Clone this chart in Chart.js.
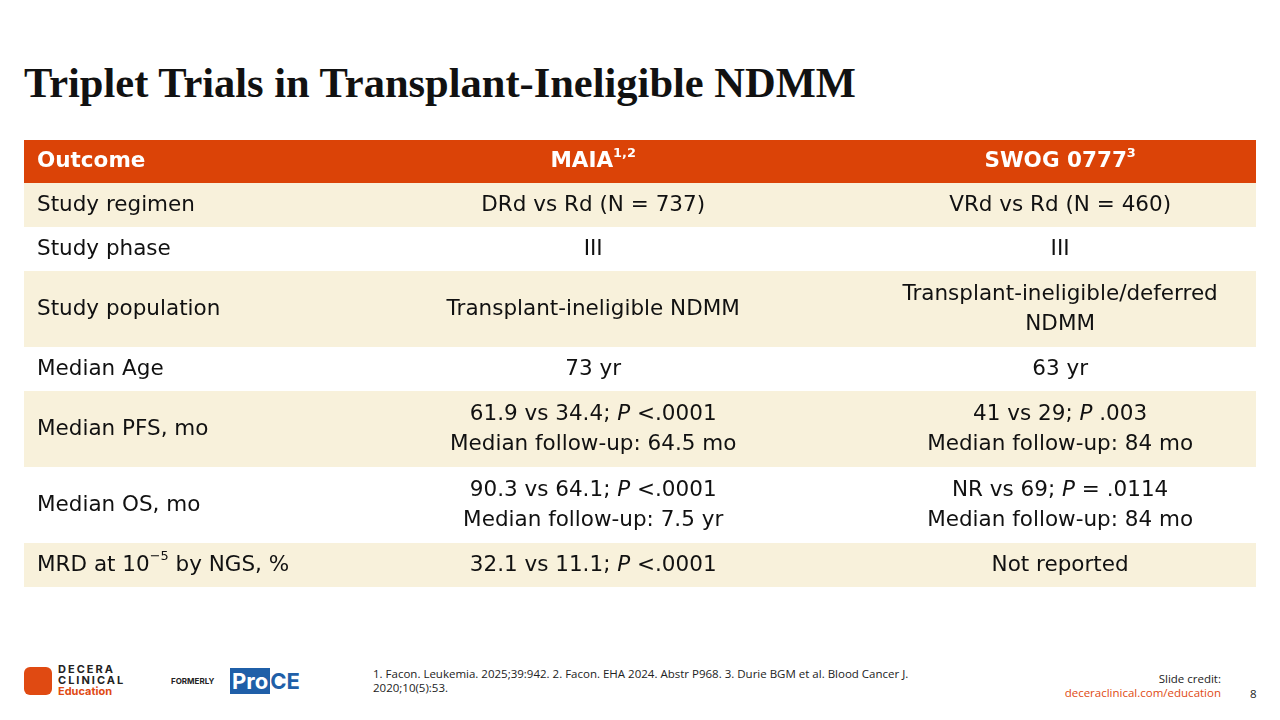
<!DOCTYPE html>
<html><head><meta charset="utf-8">
<script src="https://cdn.jsdelivr.net/npm/chart.js@4/dist/chart.umd.min.js"></script>
<style>
body{margin:0;width:1280px;height:720px;background:#fff;position:relative;overflow:hidden;font-family:"Open Sans",sans-serif}
h1{position:absolute;left:24px;top:58px;margin:0;font:bold 42.5px "Liberation Serif",serif;color:#111}
#wrap{position:absolute;left:24px;top:140px;width:1232px;height:447px}
.foot{position:absolute;font-size:11.5px;color:#222}
</style></head><body>
<h1>Triplet Trials in Transplant-Ineligible NDMM</h1>
<div id="wrap"><canvas id="tbl"></canvas></div>
<div class="foot" style="left:24px;top:664px;width:260px;height:34px">
  <div style="position:absolute;left:0;top:3px;width:28px;height:28px;background:#E04A12;border-radius:6px"></div>
  <div style="position:absolute;left:34px;top:0;font:bold 11px Inter;letter-spacing:2px;line-height:11px;color:#222">DECERA<br>CLINICAL<br><span style="color:#E04A12;letter-spacing:0">Education</span></div>
  <div style="position:absolute;left:147px;top:12px;font:bold 8px Inter">FORMERLY</div>
  <div style="position:absolute;left:206px;top:4px;font:bold 22px Inter"><span style="background:#1F5FA8;color:#fff;padding:0 2px">Pro</span><span style="color:#1F5FA8">CE</span></div>
</div>
<div class="foot" style="left:373px;top:667px;width:600px;line-height:14px">1. Facon. Leukemia. 2025;39:942. 2. Facon. EHA 2024. Abstr P968. 3. Durie BGM et al. Blood Cancer J. 2020;10(5):53.</div>
<div class="foot" style="right:59px;top:672px;text-align:right;line-height:14px">Slide credit:<br><span style="color:#E04A12">deceraclinical.com/education</span></div>
<div class="foot" style="left:1250px;top:686px">8</div>
<script>
// ^{..} superscript, *..* italic, | new line
const headers = ['Outcome', 'MAIA^{1,2}', 'SWOG 0777^{3}'];
const outcomes = ['Study regimen', 'Study phase', 'Study population', 'Median Age', 'Median PFS, mo', 'Median OS, mo', 'MRD at 10^{\u22125} by NGS, %'];
const maia = ['DRd vs Rd (N = 737)', 'III', 'Transplant-ineligible NDMM', '73 yr',
  '61.9 vs 34.4; *P* <.0001|Median follow-up: 64.5 mo', '90.3 vs 64.1; *P* <.0001|Median follow-up: 7.5 yr', '32.1 vs 11.1; *P* <.0001'];
const swog = ['VRd vs Rd (N = 460)', 'III', 'Transplant-ineligible/deferred|NDMM', '63 yr',
  '41 vs 29; *P* .003|Median follow-up: 84 mo', 'NR vs 69; *P* = .0114|Median follow-up: 84 mo', 'Not reported'];
const colEdges = [0, 24.2, 68.2, 100];

const ORANGE = '#DB4307', BEIGE = '#F8F1DB';
const lines = r => Math.max(...[outcomes[r], maia[r], swog[r]].map(s => s.split('|').length));
const rowH = [43].concat(outcomes.map((_, r) => lines(r) === 1 ? 44 : 76));
const total = rowH.reduce((a, b) => a + b, 0);

function parse(line) {
  const segs = []; let re = /\^\{([^}]*)\}|\*([^*]*)\*|([^^*]+)/g, m;
  while ((m = re.exec(line))) {
    if (m[1] !== undefined) segs.push({t: m[1], sup: true});
    else if (m[2] !== undefined) segs.push({t: m[2], it: true});
    else segs.push({t: m[3]});
  }
  return segs;
}
function drawRich(ctx, text, x, y, align, bold, color) {
  const size = 21.5;
  const font = s => (s.it ? 'italic ' : '') + (bold ? 'bold ' : '') + (s.sup ? size * 0.6 : size) + 'px "DejaVu Sans"';
  const ls = text.split('|');
  ls.forEach((line, i) => {
    const segs = parse(line);
    let w = 0;
    segs.forEach(s => { ctx.font = font(s); w += ctx.measureText(s.t).width; });
    let cx = align === 'left' ? x : x - w / 2;
    const ly = y + (i - (ls.length - 1) / 2) * 30;
    segs.forEach(s => {
      ctx.font = font(s); ctx.fillStyle = color; ctx.textBaseline = 'middle'; ctx.textAlign = 'left';
      ctx.fillText(s.t, cx, s.sup ? ly - 8 : ly);
      cx += ctx.measureText(s.t).width;
    });
  });
}

const tablePlugin = {
  id: 'table',
  afterDraw(chart) {
    const {ctx, scales: {x, y}} = chart;
    const rows = [headers].concat(outcomes.map((o, r) => [o, maia[r], swog[r]]));
    let acc = 0;
    rows.forEach((row, r) => {
      const top = y.getPixelForValue(acc), bot = y.getPixelForValue(acc + rowH[r]);
      acc += rowH[r];
      ctx.fillStyle = r === 0 ? ORANGE : (r % 2 === 1 ? BEIGE : '#fff');
      ctx.fillRect(x.left, top, x.right - x.left, bot - top);
      row.forEach((txt, c) => {
        const l = x.getPixelForValue(colEdges[c]), rr = x.getPixelForValue(colEdges[c + 1]);
        const mid = (top + bot) / 2;
        if (c === 0) drawRich(ctx, txt, l + 13, mid, 'left', r === 0, r === 0 ? '#fff' : '#111');
        else drawRich(ctx, txt, (l + rr) / 2, mid, 'center', r === 0, r === 0 ? '#fff' : '#111');
      });
    });
  }
};

new Chart(document.getElementById('tbl'), {
  type: 'scatter',
  data: {datasets: [{data: []}]},
  options: {
    responsive: true, maintainAspectRatio: false, animation: false,
    layout: {padding: 0},
    plugins: {legend: {display: false}, tooltip: {enabled: false}},
    scales: {
      x: {type: 'linear', min: 0, max: 100, offset: false, display: false},
      y: {type: 'linear', min: 0, max: total, reverse: true, offset: false, display: false}
    }
  },
  plugins: [tablePlugin]
});
</script>
</body></html>
